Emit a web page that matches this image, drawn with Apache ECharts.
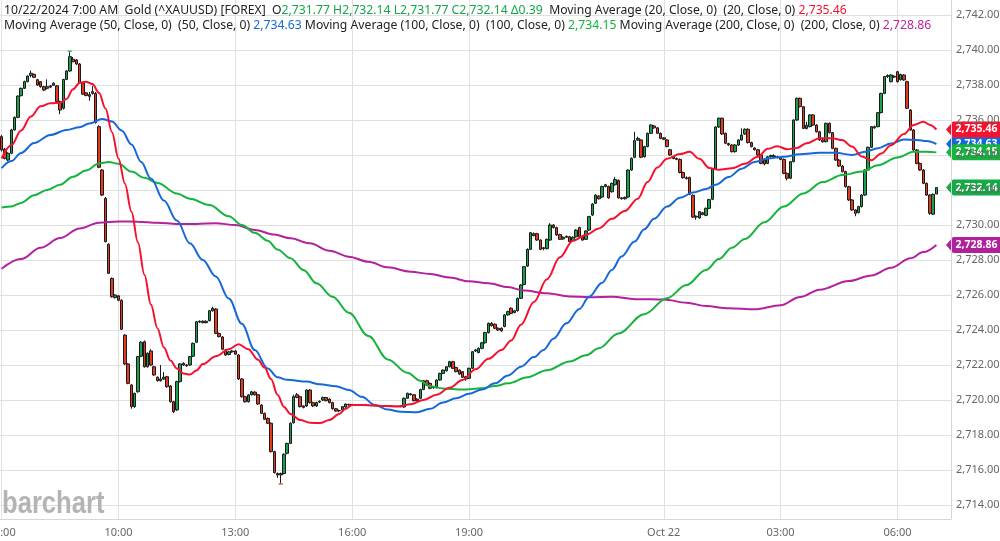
<!DOCTYPE html>
<html>
<head>
<meta charset="utf-8">
<title>Gold (^XAUUSD) 5 min</title>
<script src="https://cdn.jsdelivr.net/npm/echarts@6/dist/echarts.min.js"></script>
<style>
  html, body { margin: 0; padding: 0; background: #fff; }
  #chart { width: 1000px; height: 541px; }
</style>
</head>
<body>
<div id="chart"></div>
<script>
// 5 minute bars, 07:00 Oct 21 -> 07:00 Oct 22
// each bar is [open, close, low, high]
const candles = [
  [2735.05,2734.29,2734.2,2735.15],[2734.33,2733.81,2733.75,2734.4],[2733.71,2734.1,2733.65,2734.15],[2734.1,2735.43,2734.05,2735.5],
  [2735.43,2736.15,2735.4,2736.2],[2736.15,2737.37,2736.1,2737.4],[2737.39,2737.81,2737.35,2737.85],[2737.81,2738.19,2737.78,2738.25],
  [2738.19,2738.51,2738.15,2738.55],[2738.55,2738.67,2738.44,2738.82],[2738.61,2738.44,2738.4,2738.65],[2738.3,2738.0,2737.95,2738.35],
  [2738.19,2737.9,2737.85,2738.22],[2737.9,2737.71,2737.65,2737.95],[2737.81,2737.9,2737.75,2738.32],[2737.95,2737.88,2737.82,2738.0],
  [2737.98,2738.1,2737.95,2738.15],[2737.95,2737.05,2737.0,2738.0],[2737.05,2736.57,2736.33,2737.1],[2736.67,2738.32,2736.6,2738.35],
  [2738.32,2738.8,2738.28,2738.85],[2738.8,2739.62,2738.75,2739.87],[2739.47,2739.33,2739.3,2739.6],[2739.43,2739.2,2739.15,2739.48],
  [2739.2,2738.13,2738.1,2739.25],[2738.13,2737.48,2737.43,2738.18],[2737.55,2737.4,2737.35,2737.6],[2737.45,2737.35,2737.1,2737.6],
  [2737.52,2737.62,2737.45,2737.95],[2737.52,2735.85,2735.8,2737.6],[2735.62,2733.3,2733.25,2735.7],[2733.14,2731.71,2731.65,2733.2],
  [2731.52,2729.05,2729.0,2731.6],[2728.9,2727.24,2727.2,2728.95],[2726.95,2725.9,2725.85,2727.0],[2725.85,2726.0,2725.8,2726.05],
  [2725.95,2725.7,2725.65,2726.0],[2725.7,2724.04,2724.0,2725.75],[2723.71,2722.06,2722.0,2723.75],[2722.06,2720.95,2720.9,2722.1],
  [2720.86,2719.62,2719.5,2720.9],[2719.62,2720.38,2719.55,2720.42],[2720.47,2722.48,2720.42,2722.52],[2722.5,2723.3,2722.45,2723.36],
  [2723.33,2721.9,2721.85,2723.4],[2721.9,2722.67,2721.85,2722.72],[2722.8,2722.0,2721.95,2722.9],[2721.9,2721.43,2721.38,2721.95],
  [2721.3,2721.1,2721.05,2721.35],[2721.1,2721.2,2721.05,2722.0],[2721.2,2721.3,2721.15,2721.6],[2721.33,2720.76,2720.7,2721.38],
  [2720.8,2719.9,2719.85,2720.85],[2719.9,2719.33,2719.25,2719.95],[2719.43,2721.05,2719.38,2721.1],[2721.05,2722.06,2721.0,2722.1],
  [2722.1,2722.0,2721.95,2722.15],[2722.0,2721.95,2721.9,2722.05],[2722.0,2722.48,2721.95,2722.52],[2722.5,2723.24,2722.45,2723.28],
  [2723.3,2724.47,2723.25,2724.52],[2724.45,2724.5,2724.4,2724.55],[2724.5,2724.42,2724.38,2724.55],[2724.42,2724.5,2724.38,2724.55],
  [2724.53,2725.1,2724.5,2725.15],[2725.1,2725.24,2725.05,2725.33],[2725.2,2723.81,2723.76,2725.25],[2723.8,2723.62,2723.58,2723.85],
  [2723.6,2722.9,2722.85,2723.65],[2722.86,2722.57,2722.52,2722.9],[2722.6,2722.75,2722.55,2722.8],[2722.75,2722.8,2722.7,2722.86],
  [2722.8,2722.62,2722.58,2722.85],[2722.57,2721.2,2721.15,2722.62],[2721.2,2720.19,2720.14,2721.25],[2720.19,2719.9,2719.85,2720.24],
  [2719.9,2720.29,2719.86,2720.34],[2720.3,2720.47,2720.25,2720.52],[2720.45,2720.3,2720.25,2720.5],[2720.3,2719.77,2719.72,2720.35],
  [2719.71,2719.24,2719.2,2719.76],[2719.24,2718.9,2718.85,2719.28],[2718.95,2718.67,2718.62,2719.0],[2718.67,2717.05,2717.0,2718.72],
  [2717.05,2715.85,2715.8,2717.1],[2715.8,2715.71,2715.55,2715.86],[2715.72,2715.8,2715.26,2715.85],[2715.8,2716.9,2715.75,2716.95],
  [2716.95,2717.52,2716.9,2717.56],[2717.52,2718.67,2717.48,2718.72],[2718.7,2720.19,2718.65,2720.3],[2720.3,2720.15,2720.1,2720.4],
  [2720.19,2719.62,2719.57,2720.24],[2719.66,2719.58,2719.52,2719.7],[2719.66,2720.57,2719.6,2720.6],[2720.57,2719.85,2719.8,2720.62],
  [2719.85,2719.66,2719.6,2719.9],[2719.66,2719.85,2719.6,2719.9],[2719.88,2719.92,2719.83,2719.98],[2720.0,2720.14,2719.95,2720.2],
  [2720.14,2719.96,2719.92,2720.18],[2720.05,2719.85,2719.8,2720.1],[2719.85,2719.5,2719.45,2719.9],[2719.5,2719.37,2719.32,2719.55],
  [2719.4,2719.38,2719.3,2719.45],[2719.43,2719.62,2719.38,2719.66],[2719.6,2719.77,2719.56,2719.8],[2719.75,2719.72,2719.68,2719.78],
  [2719.72,2719.7,2719.67,2719.75],[2719.7,2719.71,2719.68,2719.73],[2719.71,2719.69,2719.67,2719.73],[2719.69,2719.7,2719.67,2719.72],
  [2719.7,2719.68,2719.66,2719.72],[2719.68,2719.69,2719.66,2719.71],[2719.69,2719.67,2719.65,2719.71],[2719.67,2719.68,2719.65,2719.7],
  [2719.68,2719.66,2719.64,2719.7],[2719.66,2719.67,2719.64,2719.69],[2719.67,2719.65,2719.63,2719.69],[2719.65,2719.66,2719.63,2719.68],
  [2719.66,2719.64,2719.62,2719.68],[2719.64,2719.65,2719.62,2719.67],[2719.65,2719.63,2719.61,2719.67],[2719.66,2719.62,2719.58,2719.7],
  [2719.6,2720.1,2719.56,2720.14],[2720.1,2720.38,2720.06,2720.42],[2720.35,2720.3,2720.26,2720.4],[2720.3,2719.96,2719.92,2720.34],
  [2720.05,2719.96,2719.92,2720.1],[2720.1,2720.6,2720.05,2720.64],[2720.6,2721.1,2720.56,2721.14],[2721.1,2720.85,2720.8,2721.16],
  [2720.95,2720.67,2720.62,2721.0],[2720.7,2720.75,2720.64,2720.8],[2720.7,2721.14,2720.66,2721.18],[2721.14,2721.52,2721.1,2721.56],
  [2721.52,2721.71,2721.48,2721.75],[2721.67,2721.9,2721.62,2721.94],[2721.9,2722.19,2721.86,2722.24],[2722.19,2721.81,2721.76,2722.24],
  [2721.86,2721.62,2721.58,2721.9],[2721.71,2721.48,2721.44,2721.75],[2721.62,2721.3,2721.26,2721.66],[2721.33,2721.2,2721.1,2721.38],
  [2721.24,2721.81,2721.2,2721.85],[2721.81,2722.76,2721.77,2722.8],[2722.8,2722.86,2722.74,2722.92],[2722.71,2722.95,2722.67,2723.0],
  [2722.95,2723.27,2722.9,2723.32],[2723.27,2723.85,2723.22,2723.9],[2723.85,2724.38,2723.8,2724.43],[2724.38,2724.24,2724.2,2724.45],
  [2724.33,2724.1,2724.05,2724.38],[2724.1,2724.0,2723.95,2724.15],[2724.1,2723.95,2723.9,2724.15],[2724.2,2724.86,2724.15,2724.9],
  [2724.86,2725.05,2724.82,2725.1],[2725.24,2724.95,2724.9,2725.3],[2725.0,2725.1,2724.95,2725.15],[2725.1,2725.81,2725.05,2725.85],
  [2725.81,2726.57,2725.77,2726.62],[2726.6,2727.62,2726.55,2727.66],[2727.65,2728.61,2727.6,2728.66],[2728.61,2729.56,2728.57,2729.6],
  [2729.5,2729.4,2729.35,2729.58],[2729.5,2729.14,2729.1,2729.55],[2729.14,2728.61,2728.56,2729.18],[2728.65,2728.7,2728.55,2728.75],
  [2728.65,2729.18,2728.6,2729.22],[2729.14,2730.0,2729.1,2730.1],[2730.0,2729.85,2729.8,2730.05],[2729.85,2729.43,2729.38,2729.9],
  [2729.45,2729.18,2729.14,2729.5],[2729.2,2729.3,2729.16,2729.35],[2729.3,2729.35,2729.26,2729.4],[2729.33,2729.05,2729.0,2729.38],
  [2729.1,2729.3,2729.05,2729.35],[2729.33,2729.71,2729.28,2729.76],[2729.85,2729.33,2729.28,2729.9],[2729.33,2729.14,2729.1,2729.38],
  [2729.18,2729.66,2729.14,2729.7],[2729.71,2730.48,2729.66,2730.52],[2730.57,2731.2,2730.52,2731.24],[2731.24,2731.71,2731.2,2731.76],
  [2731.65,2731.5,2731.45,2731.7],[2731.6,2732.2,2731.55,2732.25],[2732.2,2732.3,2732.15,2732.35],[2732.2,2731.55,2731.5,2732.25],
  [2731.9,2732.38,2731.85,2732.42],[2732.3,2732.6,2732.25,2732.75],[2732.55,2731.55,2731.5,2732.6],[2731.55,2731.5,2731.45,2731.6],
  [2731.5,2731.58,2731.45,2731.62],[2731.6,2733.14,2731.55,2733.18],[2733.14,2733.81,2733.1,2733.86],[2733.87,2734.82,2733.82,2735.33],
  [2734.85,2734.95,2734.8,2735.05],[2734.86,2733.87,2733.82,2734.9],[2733.9,2734.48,2733.85,2734.52],[2734.48,2735.24,2734.44,2735.28],
  [2735.24,2735.71,2735.2,2735.76],[2735.66,2735.55,2735.5,2735.72],[2735.55,2735.24,2735.2,2735.6],[2735.24,2734.95,2734.9,2735.28],
  [2734.98,2734.9,2734.85,2735.02],[2734.86,2734.48,2734.44,2734.9],[2734.3,2734.0,2733.95,2734.35],[2733.9,2733.8,2733.75,2733.95],
  [2733.8,2733.75,2733.7,2733.85],[2733.75,2733.0,2732.95,2733.8],[2733.0,2732.7,2732.65,2733.05],[2732.7,2732.65,2732.6,2732.78],
  [2732.72,2731.75,2731.7,2732.76],[2731.7,2730.45,2730.4,2731.74],[2730.45,2730.5,2730.3,2730.55],[2730.4,2730.76,2730.36,2730.8],
  [2730.7,2730.6,2730.55,2730.75],[2730.55,2730.95,2730.5,2731.0],[2730.95,2731.45,2730.9,2731.5],[2731.47,2733.2,2731.42,2733.24],
  [2733.2,2735.6,2733.15,2735.64],[2735.6,2736.1,2735.55,2736.14],[2736.1,2735.2,2735.15,2736.14],[2735.24,2734.67,2734.62,2735.28],
  [2734.65,2734.58,2734.52,2734.7],[2734.57,2734.19,2734.14,2734.62],[2734.19,2734.57,2734.14,2734.62],[2734.57,2734.86,2734.52,2734.9],
  [2734.86,2735.14,2734.82,2735.52],[2735.2,2735.47,2735.15,2735.52],[2735.47,2734.71,2734.66,2735.52],[2734.71,2734.48,2734.43,2734.76],
  [2734.4,2734.3,2734.25,2734.45],[2734.3,2734.0,2733.95,2734.35],[2734.0,2733.52,2733.47,2734.05],[2733.71,2733.49,2733.4,2733.76],
  [2733.52,2733.9,2733.48,2733.95],[2733.9,2733.97,2733.85,2734.02],[2733.95,2733.9,2733.85,2734.05],[2733.9,2733.85,2733.8,2733.95],
  [2733.85,2733.75,2733.7,2733.9],[2733.75,2732.95,2732.9,2733.8],[2732.95,2732.67,2732.55,2733.0],[2732.67,2733.62,2732.62,2733.66],
  [2733.62,2736.0,2733.58,2736.04],[2736.0,2737.24,2735.95,2737.28],[2737.24,2736.76,2736.72,2737.28],[2736.76,2735.52,2735.48,2736.8],
  [2735.52,2735.7,2735.46,2735.9],[2735.62,2736.29,2735.58,2736.33],[2736.29,2735.71,2735.66,2736.33],[2735.71,2735.33,2735.28,2735.76],
  [2735.33,2734.86,2734.81,2735.38],[2734.86,2734.76,2734.7,2734.92],[2734.76,2735.81,2734.72,2735.85],[2735.81,2735.28,2735.23,2735.86],
  [2735.28,2734.38,2734.33,2735.32],[2734.38,2733.71,2733.66,2734.42],[2733.71,2733.37,2733.32,2733.76],[2733.37,2733.05,2733.0,2733.42],
  [2733.05,2732.19,2732.14,2733.1],[2732.19,2731.43,2731.38,2732.24],[2731.43,2730.86,2730.81,2731.48],[2730.86,2730.67,2730.5,2730.9],
  [2730.71,2731.05,2730.66,2731.1],[2731.05,2731.71,2731.0,2731.76],[2731.71,2733.14,2731.66,2733.18],[2733.14,2734.44,2733.1,2734.48],
  [2734.44,2735.62,2734.4,2735.66],[2735.55,2735.62,2735.5,2735.68],[2735.62,2736.42,2735.58,2736.46],[2736.42,2737.52,2736.38,2737.56],
  [2737.52,2738.48,2737.48,2738.52],[2738.48,2738.55,2738.4,2738.6],[2738.19,2738.57,2738.15,2738.62],[2738.5,2738.45,2738.4,2738.56],
  [2738.76,2738.19,2738.14,2738.8],[2738.3,2738.6,2738.25,2738.65],[2738.57,2738.29,2738.24,2738.62],[2738.19,2736.67,2736.62,2738.24],
  [2736.57,2735.43,2735.38,2736.62],[2735.43,2734.29,2734.24,2735.48],[2734.29,2733.52,2733.47,2734.34],[2733.52,2733.14,2733.09,2733.57],
  [2733.14,2732.38,2732.33,2733.19],[2732.38,2731.71,2731.66,2732.43],[2731.71,2730.67,2730.58,2731.76],[2730.62,2731.75,2730.57,2731.8],
  [2731.77,2732.14,2731.77,2732.14]
];

// moving averages read at sample bars: [bar index, value]
const ma20 = [[0,2733.8],[3,2734.55],[6,2735.4],[9,2736.2],[12,2736.78],[15,2736.95],[18,2736.98],[20,2737.2],[22,2737.75],[24,2738.12],[26,2738.19],[28,2738.05],[30,2737.55],[32,2736.65],[34,2735.3],[36,2733.8],[38,2732.35],[40,2730.75],[42,2729.0],[44,2727.15],[46,2725.45],[48,2724.1],[50,2723.0],[52,2722.25],[54,2721.8],[56,2721.52],[58,2721.45],[60,2721.68],[62,2722.05],[66,2722.5],[70,2722.9],[73,2723.18],[76,2722.9],[79,2722.3],[81,2721.85],[83,2721.2],[85,2720.3],[87,2719.6],[89,2719.2],[92,2718.85],[95,2718.7],[98,2718.68],[101,2718.86],[104,2719.2],[106,2719.5],[108,2719.72],[112,2719.72],[118,2719.65],[122,2719.63],[126,2719.75],[130,2720.0],[134,2720.3],[138,2720.7],[142,2721.14],[146,2721.75],[150,2722.35],[154,2722.85],[157,2723.4],[160,2724.3],[164,2725.6],[168,2726.9],[172,2728.15],[176,2729.1],[180,2729.43],[184,2729.8],[188,2730.35],[192,2730.8],[196,2731.5],[199,2732.45],[202,2733.28],[205,2733.78],[209,2734.05],[212,2734.18],[215,2733.78],[218,2733.26],[221,2733.15],[225,2733.24],[229,2733.5],[233,2733.9],[236,2734.35],[239,2734.5],[242,2734.33],[245,2734.4],[248,2734.67],[252,2734.95],[256,2734.95],[259,2734.85],[262,2734.48],[265,2733.92],[268,2733.7],[271,2734.08],[274,2734.55],[278,2735.2],[281,2735.72],[284,2735.9],[286,2735.72],[288,2735.46]];
const ma50 = [[0,2733.25],[3,2733.65],[6,2734.12],[10,2734.68],[15,2735.14],[20,2735.43],[24,2735.58],[27,2735.8],[31,2736.05],[34,2735.92],[37,2735.4],[40,2734.6],[43,2733.6],[46,2732.65],[50,2731.4],[54,2730.25],[58,2728.95],[62,2728.0],[66,2727.05],[70,2725.8],[74,2724.35],[78,2722.85],[82,2721.8],[85,2721.3],[88,2721.15],[94,2721.05],[98,2720.9],[103,2720.78],[107,2720.57],[111,2720.18],[115,2719.72],[119,2719.45],[123,2719.33],[128,2719.3],[132,2719.5],[136,2719.85],[140,2720.1],[144,2720.35],[148,2720.6],[152,2720.95],[156,2721.4],[160,2721.9],[164,2722.45],[167,2722.86],[170,2723.5],[174,2724.38],[178,2725.2],[181,2725.9],[185,2726.7],[188,2727.43],[191,2728.2],[195,2729.05],[198,2729.75],[201,2730.35],[205,2731.05],[209,2731.55],[213,2731.85],[217,2732.05],[220,2732.3],[224,2732.74],[228,2733.22],[232,2733.6],[236,2733.8],[241,2733.9],[246,2734.04],[252,2734.13],[257,2734.13],[262,2734.0],[266,2734.19],[270,2734.38],[274,2734.65],[278,2734.88],[282,2734.86],[285,2734.8],[288,2734.63]];
const ma100 = [[0,2731.0],[3,2731.06],[6,2731.26],[10,2731.7],[14,2732.0],[18,2732.3],[22,2732.75],[26,2733.12],[30,2733.52],[33,2733.6],[36,2733.5],[40,2733.05],[44,2732.7],[48,2732.4],[54,2731.8],[58,2731.5],[64,2731.14],[70,2730.5],[74,2730.0],[78,2729.55],[82,2729.1],[85,2728.6],[89,2728.1],[93,2727.43],[97,2726.67],[102,2725.9],[107,2724.98],[113,2723.65],[119,2722.32],[125,2721.55],[129,2721.1],[132,2720.78],[136,2720.66],[142,2720.6],[148,2720.67],[152,2720.8],[156,2720.95],[162,2721.3],[168,2721.7],[175,2722.2],[180,2722.55],[184,2722.95],[190,2723.8],[198,2724.9],[205,2725.82],[211,2726.57],[217,2727.43],[221,2728.05],[225,2728.7],[229,2729.2],[235,2730.15],[241,2731.05],[247,2731.8],[253,2732.45],[259,2732.85],[265,2733.05],[270,2733.42],[276,2733.85],[281,2734.18],[285,2734.19],[288,2734.15]];
const ma200 = [[0,2727.5],[6,2728.05],[12,2728.7],[18,2729.25],[24,2729.8],[30,2730.13],[36,2730.2],[42,2730.19],[48,2730.13],[54,2730.06],[60,2730.06],[66,2730.1],[72,2730.0],[78,2729.72],[84,2729.45],[89,2729.24],[95,2728.95],[101,2728.53],[107,2728.19],[113,2727.9],[119,2727.58],[126,2727.33],[132,2727.2],[138,2727.0],[144,2726.78],[150,2726.67],[156,2726.45],[161,2726.25],[168,2726.1],[175,2725.92],[181,2725.87],[188,2725.9],[196,2725.76],[204,2725.74],[211,2725.56],[217,2725.37],[224,2725.24],[232,2725.18],[240,2725.42],[246,2725.88],[252,2726.3],[261,2726.8],[268,2727.12],[274,2727.55],[280,2728.1],[284,2728.45],[288,2728.86]];

// x tick labels: [bar index, text]
const xTicks = [[0,'07:00'],[36,'10:00'],[72,'13:00'],[108,'16:00'],[144,'19:00'],[204,'Oct 22'],[240,'03:00'],[276,'06:00']];

const C = {
  up: '#17a14b', down: '#e3391f', edge: '#1a1a1a',
  ma20: '#f5122f', ma50: '#1668d8', ma100: '#14b43d', ma200: '#b3229e',
  grid: '#e0e0e0', axisText: '#666', text: '#222', quote: '#12a84b'
};

// category slots: the bars plus a little empty room on the right
const emptySlots = 4;
const times = [];
for (let i = 0; i < candles.length + emptySlots; i++) {
  const m = (7 * 60 + i * 5) % (24 * 60);
  times.push(String(Math.floor(m / 60)).padStart(2, '0') + ':' + String(m % 60).padStart(2, '0'));
}
const tickName = {};
xTicks.forEach(t => { tickName[t[0]] = t[1]; });
const isTick = i => tickName[i] !== undefined;

const fmt = v => v.toLocaleString('en-US', { minimumFractionDigits: 2, maximumFractionDigits: 2 });
const last = arr => arr[arr.length - 1][1];

const lastBar = candles[candles.length - 1];
const prevClose = candles[candles.length - 2][1];

// session high / low bars for the small marks
let hiIdx = 0, loIdx = 0;
candles.forEach((c, i) => {
  if (c[3] > candles[hiIdx][3]) hiIdx = i;
  if (c[2] < candles[loIdx][2]) loIdx = i;
});

const chart = echarts.init(document.getElementById('chart'), null, { renderer: 'canvas' });

const maSeries = (name, data, color) => ({
  name, type: 'line', data, smooth: 0.35, smoothMonotone: 'x',
  showSymbol: false, symbol: 'none', z: 4, silent: true,
  lineStyle: { color, width: 2 }
});

const font = '"Noto Sans", "Open Sans", sans-serif';

chart.setOption({
  animation: false,
  backgroundColor: '#fff',
  grid: { left: 0, right: 49, top: 0, bottom: 22, containLabel: false, outerBoundsMode: 'none' },
  xAxis: {
    type: 'category', data: times, boundaryGap: true,
    axisLine: { show: true, lineStyle: { color: '#d6d6d6' } },
    axisTick: { show: false },
    axisLabel: {
      interval: i => isTick(i), formatter: (v, i) => tickName[i] || '',
      color: C.axisText, fontSize: 11, fontFamily: font, margin: 8, hideOverlap: false
    },
    splitLine: { show: true, interval: i => isTick(i), alignWithLabel: true, lineStyle: { color: C.grid } }
  },
  yAxis: {
    type: 'value', position: 'right', scale: true,
    min: 2713.2, max: 2742.857, splitNumber: 15, minInterval: 2, maxInterval: 2,
    axisLine: { show: true, lineStyle: { color: '#d6d6d6' } },
    axisTick: { show: false },
    axisLabel: { color: C.axisText, fontSize: 11, fontFamily: font, margin: 5, showMinLabel: false, showMaxLabel: false, formatter: fmt },
    splitLine: { show: true, showMinLine: false, showMaxLine: false, lineStyle: { color: C.grid } }
  },
  series: [
    {
      name: 'Gold', type: 'candlestick', data: candles, barWidth: 3, z: 3,
      itemStyle: { color: C.up, color0: C.down, borderColor: C.edge, borderColor0: C.edge, borderWidth: 1 },
      markPoint: {
        silent: true, symbol: 'rect', symbolSize: [4, 1.5], label: { show: false },
        data: [
          { coord: [hiIdx, candles[hiIdx][3]], symbolOffset: [0, -1], itemStyle: { color: '#25c25a' } },
          { coord: [loIdx, candles[loIdx][2]], symbolOffset: [0, 1], itemStyle: { color: '#f0443a' } }
        ]
      }
    },
    maSeries('MA200', ma200, C.ma200),
    maSeries('MA100', ma100, C.ma100),
    maSeries('MA50', ma50, C.ma50),
    maSeries('MA20', ma20, C.ma20)
  ]
});

// header lines, last price tags, watermark (zrender text: colour goes in fill)
const hs = 12.2;
const rich = {
  k: { fill: C.text, fontSize: hs, fontFamily: font },
  g: { fill: C.quote, fontSize: hs, fontFamily: font },
  r: { fill: C.ma20, fontSize: hs, fontFamily: font },
  b: { fill: C.ma50, fontSize: hs, fontFamily: font },
  m: { fill: C.ma100, fontSize: hs, fontFamily: font },
  p: { fill: '#c0229f', fontSize: hs, fontFamily: font }
};
const line1 = '{k|10/22/2024 7:00 AM  Gold (^XAUUSD) [FOREX]  O}' +
  '{g|' + fmt(lastBar[0]) + ' H' + fmt(lastBar[3]) + ' L' + fmt(lastBar[2]) + ' C' + fmt(lastBar[1]) +
  ' \u0394' + (lastBar[1] - prevClose).toFixed(2) + '}' +
  '{k|  Moving Average (20, Close, 0)  (20, Close, 0) }{r|' + fmt(last(ma20)) + '}';
const line2 = '{k|Moving Average (50, Close, 0)  (50, Close, 0) }{b|' + fmt(last(ma50)) + '}' +
  '{k| Moving Average (100, Close, 0)  (100, Close, 0) }{m|' + fmt(last(ma100)) + '}' +
  '{k| Moving Average (200, Close, 0)  (200, Close, 0) }{p|' + fmt(last(ma200)) + '}';

function priceTag(value, color) {
  const y = chart.convertToPixel({ yAxisIndex: 0 }, value);
  return {
    type: 'group', silent: true,
    children: [
      { type: 'polygon', shape: { points: [[946, y], [953, y - 8], [1000, y - 8], [1000, y + 8], [953, y + 8]] }, style: { fill: color } },
      { type: 'text', style: { text: fmt(value), x: 976.5, y: y, textAlign: 'center', textVerticalAlign: 'middle', align: 'center', verticalAlign: 'middle', fill: '#fff', font: 'bold 10.5px ' + font } }
    ]
  };
}

chart.setOption({
  graphic: [
    { type: 'text', silent: true, x: 2, y: 504, scaleX: 0.8, style: { text: 'barchart', x: 0, y: 0, textVerticalAlign: 'middle', verticalAlign: 'middle', fill: '#b4b4b4', font: 'bold 32px "Liberation Sans", sans-serif' } },
    { type: 'text', silent: true, style: { text: line1, x: 4, y: 11, textVerticalAlign: 'middle', verticalAlign: 'middle', rich } },
    { type: 'text', silent: true, style: { text: line2, x: 4, y: 26, textVerticalAlign: 'middle', verticalAlign: 'middle', rich } },
    priceTag(last(ma50), C.ma50),
    priceTag(last(ma20), C.ma20),
    priceTag(last(ma100), C.ma100),
    priceTag(lastBar[1], '#13ab45'),
    priceTag(last(ma200), '#b0219b')
  ]
});
</script>
</body>
</html>
